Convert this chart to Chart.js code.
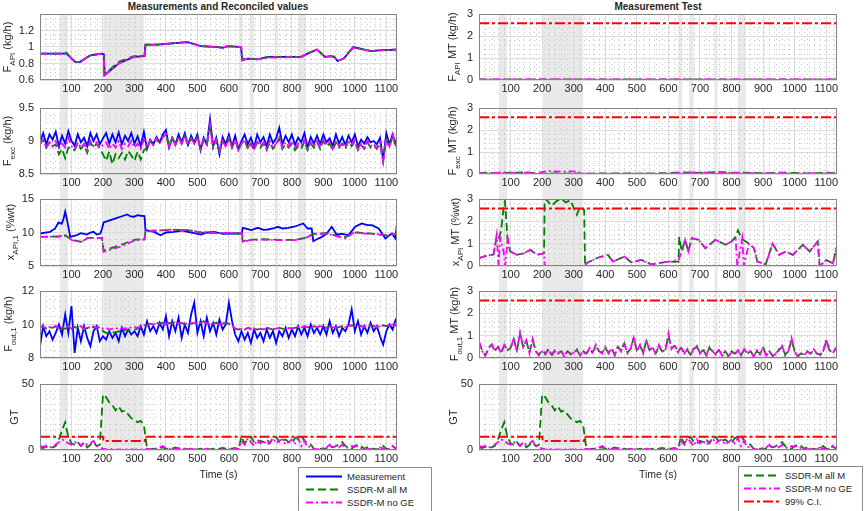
<!DOCTYPE html>
<html>
<head>
<meta charset="utf-8">
<script src="https://cdn.jsdelivr.net/npm/chart.js@4.4.1/dist/chart.umd.min.js"></script>
<style>
  body { margin: 0; width: 865px; height: 511px; position: relative; overflow: hidden; background: #fff;
         font-family: 'Liberation Sans', Arial, Helvetica, sans-serif; color: #262626; }
  canvas { position: absolute; }
  .title { position: absolute; font-weight: bold; font-size: 10px; transform: translateX(-50%); white-space: nowrap; }
  .ylab { position: absolute; font-size: 11px; transform: translate(-50%, -50%) rotate(-90deg); white-space: nowrap; }
  .ylab sub { font-size: 8px; }
  .legend { position: absolute; border: 1px solid #8c8c8c; background: #fff; font-size: 9.5px; }
  .legend div { height: 13px; line-height: 13px; display: flex; align-items: center; white-space: nowrap; }
  .legend svg { flex: none; }
</style>
</head>
<body>
<div class="title" style="left:218px;top:1px">Measurements and Reconciled values</div>
<div class="title" style="left:658px;top:1px">Measurement Test</div>
<script>
// time grid of the sampled series (every 10 s)
const T = [];
for (let t = 0; t <= 1140; t += 10) T.push(t);

const X_MAX = 1134;
const X_TICKS = [100, 200, 300, 400, 500, 600, 700, 800, 900, 1000, 1100];
// shaded periods (s)
const BAND_FROM = [63, 201, 631, 666, 746, 820];
const BAND_TO   = [89, 330, 644, 680, 756, 845];

// ---- F_API (left, row 1)
const fapiT    = [0,75,85,100,112,128,160,197,203,205, 250,298,332,335,373,469,511,564,580,596, 639,642,660,692,724,830,850,880,905,925, 935,945,965,995,1040,1055,1075,1140];
const fapiMeas = [0.92,0.92,0.92,0.86,0.82,0.82,0.90,0.92,0.91,0.66, 0.80,0.88,0.89,1.03,1.03,1.06,1.01,1.00,0.99,1.01, 1.00,0.84,0.86,0.85,0.88,0.88,0.92,0.97,0.88,0.89, 0.88,0.83,0.86,1.00,0.96,0.95,0.96,0.97];
const fapiAllM = [0.92,0.92,0.93,0.86,0.82,0.82,0.90,0.92,0.91,0.67, 0.82,0.89,0.89,1.03,1.03,1.06,1.01,1.00,0.99,1.01, 1.00,0.85,0.86,0.85,0.88,0.88,0.92,0.97,0.88,0.89, 0.88,0.83,0.86,1.00,0.96,0.95,0.96,0.97];
const fapiNoGE = [0.92,0.92,0.92,0.86,0.82,0.82,0.90,0.92,0.91,0.66, 0.80,0.88,0.89,1.02,1.03,1.06,1.01,1.00,0.99,1.01, 1.00,0.84,0.86,0.85,0.87,0.88,0.92,0.97,0.88,0.89, 0.88,0.83,0.86,0.99,0.96,0.95,0.96,0.97];

// ---- F_exc (left, row 2), on T
const fexcMeas = [8.98,9.12,8.95,9.10,9.02,9.14,8.92,9.08,8.96,9.15,
  9.00,8.93,9.10,8.98,9.05,8.92,9.12,9.00,9.10,8.95,
  9.04,9.12,8.96,9.10,8.98,9.13,8.95,9.08,9.00,9.12,
  8.96,9.07,8.92,9.14,8.88,9.02,8.95,9.06,8.98,9.10,
  9.17,8.90,9.05,8.95,9.10,8.98,9.12,8.94,9.08,8.98,
  9.10,8.86,9.05,8.95,9.33,8.92,9.05,8.80,9.06,8.95,
  9.10,8.92,9.08,8.88,9.00,9.10,8.95,9.05,8.90,9.10,
  8.98,9.06,8.92,9.10,8.97,9.04,9.20,8.95,9.08,8.98,
  9.10,8.94,9.05,8.98,9.12,8.90,9.06,8.96,9.08,8.95,
  9.10,8.98,9.04,8.92,9.10,8.96,9.06,8.94,9.08,8.98,
  9.10,8.92,9.02,8.96,9.06,8.98,9.00,8.95,9.05,8.72,
  9.12,8.95,9.10,8.96,9.12];
const fexcAllM = [8.95,9.02,8.90,8.98,8.92,8.95,8.80,8.88,8.74,8.90,
  8.90,8.86,8.96,8.88,8.94,8.82,8.98,8.90,8.96,8.88,
  8.80,8.70,8.84,8.65,8.80,8.74,8.82,8.72,8.85,8.78,
  8.70,8.84,8.72,8.86,8.90,9.00,8.94,9.04,8.96,9.06,
  9.10,8.92,9.04,8.94,9.06,8.96,9.08,8.94,9.04,8.96,
  9.06,8.88,9.02,8.94,9.25,8.90,9.02,8.85,9.00,8.92,
  9.04,8.90,9.02,8.86,8.96,9.02,8.88,8.96,8.86,8.98,
  8.90,8.96,8.86,8.98,8.88,8.94,9.04,8.88,8.95,8.90,
  8.96,8.86,8.92,8.88,9.00,8.86,8.96,8.90,8.98,8.88,
  9.00,8.92,8.96,8.86,8.98,8.90,8.96,8.88,9.00,8.92,
  9.00,8.86,8.94,8.88,8.98,8.90,8.94,8.88,8.96,8.70,
  9.02,8.90,9.08,8.92,9.04];
const fexcNoGE = [8.95,9.02,8.90,8.98,8.92,9.00,8.88,8.96,8.90,9.05,
  8.92,8.88,8.98,8.90,8.96,8.86,9.00,8.92,8.98,8.90,
  8.94,8.98,8.88,8.96,8.90,9.00,8.88,8.96,8.92,9.00,
  8.90,8.96,8.88,9.02,8.90,9.00,8.94,9.04,8.96,9.06,
  9.10,8.92,9.04,8.94,9.06,8.96,9.08,8.94,9.04,8.96,
  9.06,8.88,9.02,8.94,9.25,8.90,9.02,8.85,9.00,8.92,
  9.04,8.90,9.02,8.86,8.96,9.02,8.90,8.98,8.88,9.00,
  8.92,8.98,8.88,9.00,8.90,8.96,9.06,8.90,8.98,8.92,
  9.00,8.90,8.96,8.92,9.02,8.88,8.98,8.92,9.00,8.90,
  9.02,8.94,8.98,8.88,9.00,8.92,8.98,8.90,9.02,8.94,
  9.02,8.88,8.96,8.90,9.00,8.92,8.96,8.90,8.98,8.68,
  9.04,8.92,9.10,8.94,9.06];

// ---- x_API,1 (left, row 3)
const xapiMeasT = [0,32,48,59,69,75,80,85,96,117, 130,149,160,170,180,192,197,202,224,240, 256,265,277,288,298,310,320,332,335,350, 362,383,400,426,450,469,490,511,530,554, 580,618,641,644,660,671,692,710,724,740, 756,770,788,810,836,850,863,868,880,895, 910,927,942,960,980,1001,1022,1040,1054,1076, 1097,1110,1118,1129,1134,1140];
const xapiMeas  = [9.85,10.1,10.6,11.5,11.3,12.1,13.1,12.1,9.35,9.6, 9.9,9.7,10.0,10.1,9.7,9.85,10.6,11.5,11.85,12.1, 12.35,12.5,12.7,12.4,12.35,12.6,12.5,12.45,10.35,10.2, 10.1,9.6,10.0,10.1,10.3,10.1,9.9,9.7,10.0,10.1, 9.8,9.85,9.85,10.7,10.5,10.35,10.7,10.4,10.45,10.6, 10.85,10.6,10.7,10.9,11.35,10.6,10.6,8.7,9.0,9.35, 9.8,10.85,9.7,9.8,9.6,10.85,11.35,11.1,11.1,10.6, 9.1,9.6,9.85,9.1,11.35,11.5];
const xapiRecT  = [0,60,81,101,131,152,197,202,253,303, 332,335,380,424,465,505,566,641,644,666, 707,757,808,838,869,909,949,970,1000,1030, 1071,1100,1140];
const xapiAllM  = [9.35,9.4,9.55,8.9,8.6,9.2,9.2,7.3,8.1,8.95, 9.0,10.2,10.3,10.4,10.4,10.0,9.9,9.85,8.7,8.9, 9.0,8.9,8.9,9.15,9.8,9.9,9.45,9.3,10.0,9.95, 9.7,9.6,9.9];
const xapiNoGE  = [9.35,9.4,9.6,8.85,8.6,9.2,9.2,7.1,7.85,8.85, 8.95,10.25,10.3,10.45,10.35,10.1,9.95,9.95,8.6,8.85, 8.95,8.85,8.85,9.1,9.7,9.85,9.35,9.1,10.1,9.85, 9.75,9.5,9.95];

// ---- F_out,1 (left, row 4), on T
const foutMeas = [8.7,9.9,9.3,9.6,9.1,9.5,10.0,9.4,10.6,9.5,
  11.1,8.3,9.8,9.0,9.9,9.2,8.7,9.6,9.9,9.0,
  9.3,9.1,9.6,9.2,9.5,9.0,9.8,9.3,9.7,9.4,
  9.6,9.3,9.9,9.4,10.2,9.6,9.9,9.5,10.1,9.7,
  10.5,9.3,10.2,9.6,10.4,9.2,10.0,9.5,10.6,11.3,
  9.5,10.2,9.3,10.4,9.6,10.1,9.4,10.3,9.7,10.0,
  11.3,10.2,9.4,9.0,9.6,9.1,9.5,8.9,9.7,9.2,
  9.5,9.0,9.7,9.2,9.6,8.9,9.6,9.3,9.8,9.2,
  9.7,9.3,9.9,9.4,9.8,9.3,10.0,9.5,9.8,9.4,
  9.9,9.4,10.2,9.5,9.9,9.3,9.8,9.6,10.0,10.9,
  9.6,10.2,9.4,9.9,9.5,10.1,9.6,9.9,9.3,8.8,
  9.6,10.0,9.7,10.3,10.5];
const foutAllM = [9.85,9.9,9.75,9.85,9.8,9.9,9.7,9.8,9.75,9.85,
  9.75,9.85,9.8,9.9,9.7,9.8,9.75,9.85,9.8,9.85,
  9.6,9.5,9.45,9.55,9.5,9.6,9.55,9.7,9.6,9.7,
  9.7,9.75,9.85,9.95,10.0,10.05,10.0,10.1,10.05,10.1,
  10.0,10.1,10.05,10.15,10.05,10.1,10.0,10.1,10.05,10.1,
  10.0,10.1,10.2,10.1,10.0,10.05,10.1,10.0,10.05,10.1,
  10.05,9.95,9.75,9.7,9.75,9.7,9.8,9.75,9.75,9.7,
  9.75,9.7,9.8,9.75,9.7,9.75,9.8,9.75,9.7,9.8,
  9.75,9.8,9.85,9.8,9.9,9.85,9.8,9.9,9.85,9.9,
  9.85,9.8,9.9,9.85,9.8,9.85,9.9,9.85,9.9,9.95,
  9.9,9.95,9.9,9.85,9.9,9.95,9.9,9.85,9.9,9.95,
  9.9,9.95,10.0,9.95,10.05];
const foutNoGE = [9.85,9.9,9.75,9.85,9.8,9.9,9.75,9.85,9.8,9.9,
  9.75,9.85,9.8,9.9,9.75,9.85,9.8,9.9,9.8,9.85,
  9.75,9.8,9.7,9.75,9.8,9.7,9.8,9.75,9.85,9.8,
  9.85,9.8,9.9,9.95,10.0,10.05,10.0,10.1,10.05,10.1,
  10.0,10.1,10.05,10.15,10.05,10.1,10.0,10.1,10.05,10.1,
  10.0,10.1,10.05,10.1,10.0,10.05,10.1,10.0,10.05,10.1,
  10.05,9.95,9.75,9.7,9.75,9.7,9.8,9.7,9.75,9.7,
  9.75,9.7,9.8,9.75,9.7,9.75,9.8,9.75,9.7,9.8,
  9.75,9.8,9.85,9.8,9.9,9.85,9.8,9.9,9.85,9.9,
  9.85,9.8,9.9,9.85,9.8,9.85,9.9,9.85,9.9,9.95,
  9.9,9.95,9.9,9.85,9.9,9.95,9.9,9.85,9.9,9.95,
  9.9,9.95,10.0,9.95,10.05];

// ---- GT (both columns, row 5), on T
const gtAllM = [2,1.5,2.5,1.5,2,3,8,15,21,10,
  5,4,6,3,5,2,4,6,3,4,
  42,40,36,34,30,33,29,30,27,24,
  23,21,22,19,1,0.5,1,0.5,1.5,2,
  1,0.5,1,2,1,0.5,1,0.5,1,0.5,
  0.5,1,0.5,1,0.5,1,0.5,1,1.5,1,
  1,1,1.5,0.5,10,5,8,10,6,5,
  7,6,8,5,9,10,6,7,8,6,
  5,9,10,11,7,5,4,1,0.5,1,
  0.5,1.5,3,2,3,4,6,3,2,1,
  3,4,3,1,2,0.5,1,0.5,1,3,
  1,0.5,3,1,6];
const gtNoGE = [3,2.5,3,2,2.5,4,6,8,7,5,
  4,6,5,3,6,4,5,7,3,2,
  1,0.5,1,0.5,0.3,0.5,0.3,0.5,0.3,0.5,
  0.3,0.5,0.3,0.5,1,0.5,1.5,1,2,3,
  1.5,1,0.5,1,1.5,0.5,1,0.5,1,0.5,
  0.5,0.3,0.5,1,0.5,0.3,0.5,0.3,0.5,0.3,
  0.5,1,1,0.5,7,4,9,6,3,8,
  5,7,4,6,9,5,7,8,4,6,
  8,5,9,3,7,2,3,1,0.5,1,
  1.5,2,4,1.5,3,2,4,1.5,2,3,
  2.5,3,1.5,2,0.5,1,0.5,1,2,1,
  2,0.5,3,1,6];
const gtCiT = [0, 201, 201, 333, 333, 1140];
const gtCi  = [10, 10, 6.8, 6.8, 10, 10];

// ---- measurement tests (right column)
const mtCiT = [0, 1140];
const mtCi  = [2.58, 2.58];

const fapiMtT    = [0, 1140];
const fapiMtAllM = [0.025, 0.025];
const fapiMtNoGE = [0.025, 0.025];

const fexcMtT    = [0,30,60,90,120,150,180,203,220,260, 300,333,400,500,600,640,680,720,760,800, 840,900,960,1000,1050,1100,1140];
const fexcMtAllM = [0.04,0.06,0.03,0.05,0.06,0.08,0.04,0.02,0.03,0.02, 0.03,0.02,0.03,0.02,0.04,0.08,0.05,0.06,0.09,0.05, 0.06,0.04,0.06,0.05,0.03,0.06,0.02];
const fexcMtNoGE = [0.04,0.02,0.06,0.08,0.04,0.06,0.03,0.10,0.13,0.11, 0.12,0.02,0.02,0.01,0.02,0.05,0.07,0.06,0.08,0.06, 0.04,0.03,0.05,0.02,0.04,0.03,0.02];

const xapiMtAllMT = [0,14,46,56,62,70,78,82,86,91, 99,120,142,163,184,206,208,215,230,245, 260,275,290,300,310,320,333,336,339,376, 408,424,461,482,514,546,589,632,634,642, 653,663,674,695,717,749,781,800,813,820, 834,855,871,882,908,930,951,972,994,1026, 1047,1073,1079,1100,1121,1140];
const xapiMtAllM  = [0.35,0.42,0.52,1.3,1.2,1.6,2.6,2.9,2.2,1.0, 0.65,0.5,0.57,0.72,0.5,0.57,3.0,2.95,2.7,2.9, 3.0,2.85,2.95,2.6,2.3,2.65,2.5,0,0.12,0.37, 0.5,0.2,0.42,0.17,0.27,0.07,0.17,0.2,1.3,0.65, 1.17,0.65,1.25,1.17,0.8,1.17,0.95,1.1,1.3,1.6, 1.2,1.0,0.8,0.2,0.07,1.0,0.5,0.65,0.5,0.95, 0.65,1.1,0,0.27,0.12,1.25];
const xapiMtNoGET = [0,14,46,56,62,67,78,83,91,99, 120,142,163,184,206,208,337,339,376,408, 424,461,482,514,546,589,632,642,653,663, 674,695,717,749,781,813,818,834,839,855, 871,882,908,930,951,972,994,1026,1047,1073, 1079,1100,1121,1140];
const xapiMtNoGE  = [0.35,0.42,0.52,1.4,0,1.25,0.65,0,1.25,0.65, 0.5,0.57,0.72,0.5,0.57,0,0,0.12,0.37,0.5, 0.2,0.42,0.17,0.27,0.07,0.17,0.27,0.65,1.17,0.65, 1.25,1.17,0.8,1.17,0.95,1.2,0,1.25,0,1.0, 0.8,0.2,0.07,1.0,0.5,0.65,0.5,0.95,0.65,1.1, 0,0.27,0.12,1.25];

const foutMtAllM = [0.7,0.35,0.1,0.45,0.6,0.3,0.5,0.25,0.55,0.35,
  0.45,0.85,0.35,1.05,0.5,0.75,0.25,0.8,0.3,0.15,
  0.35,0.2,0.4,0.15,0.35,0.2,0.3,0.1,0.3,0.2,
  0.25,0.35,0.15,0.3,0.2,0.4,0.25,0.55,0.3,0.25,
  0.45,0.25,0.4,0.15,0.5,0.3,0.65,0.25,0.4,0.9,
  0.35,0.55,0.25,0.75,0.35,0.45,0.2,0.55,0.3,0.35,
  1.0,0.45,0.55,0.3,0.45,0.25,0.35,0.15,0.4,0.5,
  0.25,0.35,0.15,0.45,0.3,0.2,0.35,0.15,0.3,0.1,
  0.3,0.2,0.3,0.15,0.35,0.2,0.3,0.1,0.3,0.2,
  0.45,0.15,0.3,0.1,0.2,0.35,0.5,0.15,0.3,0.8,
  0.3,0.1,0.2,0.15,0.3,0.2,0.35,0.2,0.15,0.3,
  0.75,0.35,0.25,0.4,0.45];
const foutMtNoGE = [0.75,0.3,0.1,0.4,0.65,0.3,0.55,0.2,0.6,0.35,
  0.4,0.9,0.3,1.15,0.5,0.8,0.2,0.85,0.3,0.1,
  0.3,0.15,0.4,0.1,0.3,0.2,0.35,0.05,0.3,0.15,
  0.25,0.4,0.1,0.3,0.15,0.45,0.2,0.6,0.3,0.2,
  0.5,0.2,0.45,0.1,0.55,0.3,0.7,0.2,0.4,0.95,
  0.3,0.6,0.2,0.8,0.35,0.5,0.15,0.6,0.3,0.3,
  1.1,0.4,0.6,0.25,0.5,0.2,0.4,0.1,0.45,0.55,
  0.2,0.4,0.1,0.5,0.3,0.15,0.4,0.1,0.3,0.05,
  0.3,0.15,0.35,0.1,0.4,0.2,0.3,0.05,0.35,0.15,
  0.5,0.1,0.3,0.05,0.2,0.4,0.55,0.1,0.3,0.9,
  0.3,0.05,0.2,0.1,0.3,0.15,0.4,0.2,0.1,0.3,
  0.85,0.35,0.2,0.45,0.5];

// line styles: colour, width, dash, draw order (lower = on top)
const MEAS = ['#0000ff', 1.8, [], 3];
const ALLM = ['#008000', 1.8, [8, 4], 2];
const NOGE = ['#ff00ff', 1.8, [7, 3, 2, 3], 1];
const CI   = ['#ff0000', 2, [10, 3, 3, 3], 0];

const FONT = "'Liberation Sans', Arial, Helvetica, sans-serif";
const INK = '#262626';

function series(xs, ys, style) {
  return {
    data: xs.map((x, i) => ({ x: x, y: ys[i] })),
    borderColor: style[0], borderWidth: style[1], borderDash: style[2], order: style[3],
    pointRadius: 0, fill: false, tension: 0
  };
}

// grey periods behind every axes, running through the gaps between rows
const bandPlugin = {
  id: 'bands',
  beforeDraw(chart, args, opts) {
    const ctx = chart.ctx, xs = chart.scales.x, a = chart.chartArea;
    const top = opts.first ? a.top : 0;
    const bottom = opts.last ? a.bottom : chart.height;
    ctx.save();
    ctx.fillStyle = '#e9e9e9';
    BAND_FROM.forEach((b, i) => {
      const x1 = xs.getPixelForValue(b), x2 = xs.getPixelForValue(BAND_TO[i]);
      ctx.fillRect(x1, top, x2 - x1, bottom - top);
    });
    ctx.restore();
  }
};

// matlab-like minor grid (dotted) and box
const boxPlugin = {
  id: 'box',
  beforeDatasetsDraw(chart, args, opts) {
    const ctx = chart.ctx, a = chart.chartArea, xs = chart.scales.x, ys = chart.scales.y;
    ctx.save();
    ctx.strokeStyle = '#c6c6c6';
    ctx.lineWidth = 1;
    ctx.setLineDash([1, 4]);
    ctx.beginPath();
    for (let v = 20; v < X_MAX; v += 20) {
      if (v % 100 === 0) continue;
      const px = Math.round(xs.getPixelForValue(v)) + 0.5;
      ctx.moveTo(px, a.top); ctx.lineTo(px, a.bottom);
    }
    const n = Math.round((ys.max - ys.min) / opts.yMinor);
    for (let k = 1; k < n; k++) {
      const v = ys.min + k * opts.yMinor;
      if (opts.yTicks.some(t => Math.abs(t - v) < 1e-6)) continue;
      const py = Math.round(ys.getPixelForValue(v)) + 0.5;
      ctx.moveTo(a.left, py); ctx.lineTo(a.right, py);
    }
    ctx.stroke();
    ctx.restore();
  },
  afterDatasetsDraw(chart) {
    const ctx = chart.ctx, a = chart.chartArea;
    ctx.save();
    ctx.strokeStyle = '#858585';
    ctx.lineWidth = 1;
    ctx.strokeRect(Math.round(a.left) + 0.5, Math.round(a.top) + 0.5,
                   Math.round(a.right - a.left) - 1, Math.round(a.bottom - a.top) - 1);
    ctx.restore();
  }
};

function plot(cfg) {
  const cv = document.createElement('canvas');
  cv.width = cfg.w; cv.height = cfg.h;
  cv.style.left = cfg.x + 'px'; cv.style.top = cfg.y + 'px';
  document.body.appendChild(cv);
  new Chart(cv, {
    type: 'line',
    data: { datasets: cfg.sets },
    options: {
      responsive: false, animation: false, devicePixelRatio: 1, events: [],
      layout: { padding: { left: 0, right: cfg.padR, top: cfg.padT, bottom: cfg.padB } },
      plugins: {
        legend: { display: false }, tooltip: { enabled: false },
        bands: { first: cfg.row === 1, last: cfg.row === 5 },
        box: { yMinor: cfg.yMinor, yTicks: cfg.yTicks }
      },
      scales: {
        x: {
          type: 'linear', min: 0, max: X_MAX,
          afterBuildTicks: s => { s.ticks = X_TICKS.map(v => ({ value: v })); },
          afterFit: s => { s.height = cfg.xh; s.paddingLeft = 0; s.paddingRight = 0; },
          grid: { color: '#dcdcdc', drawTicks: false },
          border: { display: false },
          ticks: { padding: 2, color: INK, autoSkip: false, maxRotation: 0,
                   font: { family: FONT, size: 11 }, callback: v => String(v) },
          title: { display: cfg.row === 5, text: 'Time (s)', color: INK,
                   padding: { top: 0, bottom: 0 }, font: { family: FONT, size: 10.5 } }
        },
        y: {
          min: cfg.yMin, max: cfg.yMax,
          afterBuildTicks: s => { s.ticks = cfg.yTicks.map(v => ({ value: v })); },
          afterFit: s => { s.width = cfg.yw; s.paddingTop = 0; s.paddingBottom = 0; },
          grid: { color: '#dcdcdc', drawTicks: false },
          border: { display: false },
          ticks: { padding: 6, color: INK, font: { family: FONT, size: 11 }, callback: v => String(v) }
        }
      }
    },
    plugins: [bandPlugin, boxPlugin]
  });
}

// row geometry: canvas top, height, padding top, x-axis height, padding bottom
const ROWS = [
  { y: 0,   h: 96,  padT: 14, xh: 16, padB: 0 },
  { y: 96,  h: 94,  padT: 12, xh: 16, padB: 0 },
  { y: 190, h: 92,  padT: 9,  xh: 16, padB: 0 },
  { y: 282, h: 92,  padT: 9,  xh: 16, padB: 0 },
  { y: 374, h: 137, padT: 10, xh: 31, padB: 30 }
];
const LEFT  = { x: 0,   w: 432, yw: 40, padR: 35 };
const RIGHT = { x: 432, w: 433, yw: 47, padR: 28 };

const panels = [
  [LEFT, 1, 0.6, 1.4, [0.6, 0.8, 1, 1.2], 0.05, [
    series(fapiT, fapiMeas, MEAS), series(fapiT, fapiAllM, ALLM), series(fapiT, fapiNoGE, NOGE)]],
  [LEFT, 2, 8.5, 9.5, [8.5, 9, 9.5], 0.1, [
    series(T, fexcMeas, MEAS), series(T, fexcAllM, ALLM), series(T, fexcNoGE, NOGE)]],
  [LEFT, 3, 5, 15, [5, 10, 15], 1, [
    series(xapiMeasT, xapiMeas, MEAS), series(xapiRecT, xapiAllM, ALLM), series(xapiRecT, xapiNoGE, NOGE)]],
  [LEFT, 4, 8, 12, [8, 10, 12], 0.5, [
    series(T, foutMeas, MEAS), series(T, foutAllM, ALLM), series(T, foutNoGE, NOGE)]],
  [LEFT, 5, 0, 50, [0, 50], 5, [
    series(T, gtAllM, ALLM), series(T, gtNoGE, NOGE), series(gtCiT, gtCi, CI)]],
  [RIGHT, 1, 0, 3, [0, 1, 2, 3], 0.2, [
    series(fapiMtT, fapiMtAllM, ALLM), series(fapiMtT, fapiMtNoGE, NOGE), series(mtCiT, mtCi, CI)]],
  [RIGHT, 2, 0, 3, [0, 1, 2, 3], 0.2, [
    series(fexcMtT, fexcMtAllM, ALLM), series(fexcMtT, fexcMtNoGE, NOGE), series(mtCiT, mtCi, CI)]],
  [RIGHT, 3, 0, 3, [0, 1, 2, 3], 0.2, [
    series(xapiMtAllMT, xapiMtAllM, ALLM), series(xapiMtNoGET, xapiMtNoGE, NOGE), series(mtCiT, mtCi, CI)]],
  [RIGHT, 4, 0, 3, [0, 1, 2, 3], 0.2, [
    series(T, foutMtAllM, ALLM), series(T, foutMtNoGE, NOGE), series(mtCiT, mtCi, CI)]],
  [RIGHT, 5, 0, 50, [0, 50], 5, [
    series(T, gtAllM, ALLM), series(T, gtNoGE, NOGE), series(gtCiT, gtCi, CI)]]
];

panels.forEach(p => {
  const col = p[0], r = ROWS[p[1] - 1];
  plot({ x: col.x, w: col.w, yw: col.yw, padR: col.padR, y: r.y, h: r.h, padT: r.padT, xh: r.xh, padB: r.padB,
         row: p[1], yMin: p[2], yMax: p[3], yTicks: p[4], yMinor: p[5], sets: p[6] });
});

// y labels (html, for subscripts)
const YLABELS = [
  [9, 47, 'F<sub>API</sub> (kg/h)'], [9, 141, 'F<sub>exc</sub> (kg/h)'], [12, 232, 'x<sub>API,1</sub> (%wt)'],
  [10, 324, 'F<sub>out,1</sub> (kg/h)'], [14, 417, 'GT'],
  [454, 47, 'F<sub>API</sub> MT (kg/h)'], [454, 141, 'F<sub>exc</sub> MT (kg/h)'], [457, 232, 'x<sub>API</sub> MT (%wt)'],
  [456, 324, 'F<sub>out,1</sub> MT (kg/h)'], [453, 417, 'GT']
];
YLABELS.forEach(l => {
  const d = document.createElement('div');
  d.className = 'ylab';
  d.style.left = l[0] + 'px'; d.style.top = l[1] + 'px';
  d.innerHTML = l[2];
  document.body.appendChild(d);
});

// legends
function legend(x, y, w, padL, items) {
  const box = document.createElement('div');
  box.className = 'legend';
  box.style.left = x + 'px'; box.style.top = y + 'px'; box.style.width = w + 'px';
  box.style.paddingTop = '2px'; box.style.height = '50px';
  items.forEach(it => {
    const row = document.createElement('div');
    const st = it[1];
    row.innerHTML = '<svg width="' + (padL + 36) + '" height="13"><line x1="' + padL + '" y1="6.5" x2="' + (padL + 36) +
      '" y2="6.5" stroke="' + st[0] + '" stroke-width="' + st[1] + '" stroke-dasharray="' + st[2].join(' ') +
      '"/></svg><span style="margin-left:5px">' + it[0] + '</span>';
    box.appendChild(row);
  });
  document.body.appendChild(box);
}
legend(298, 467, 132, 7, [['Measurement', MEAS], ['SSDR-M all M', ALLM], ['SSDR-M no GE', NOGE]]);
legend(738, 466, 123, 5, [['SSDR-M all M', ALLM], ['SSDR-M no GE', NOGE], ['99% C.I.', CI]]);
</script>
</body>
</html>
